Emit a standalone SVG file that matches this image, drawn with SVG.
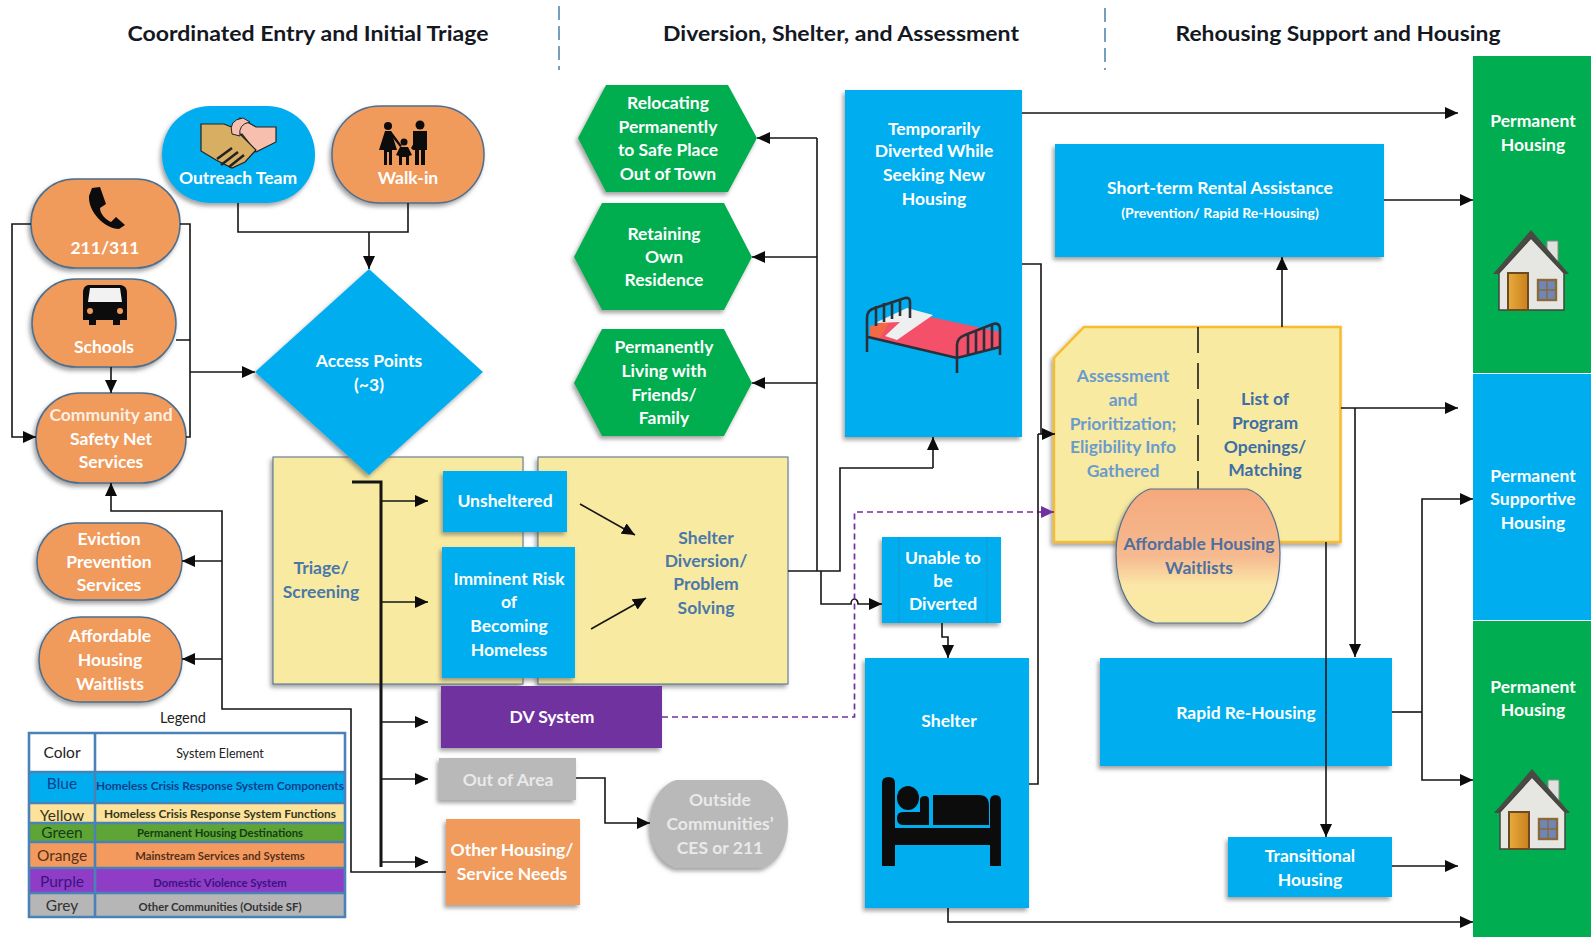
<svg xmlns="http://www.w3.org/2000/svg" width="1591" height="937" viewBox="0 0 1591 937">
<style>
text{font-family:Lato,"Liberation Sans",sans-serif;font-weight:700;text-anchor:middle}
.w{font-size:17.5px;fill:#fff}
.wg{font-size:17.5px;fill:#e9e9e9}
.h{font-size:20.5px;fill:#14181f}
.y{font-size:17.5px;fill:#4a78a8}
.a{font-size:17.5px;fill:#6a9bcd}
.b{font-size:17.5px;fill:#3d6ea6}
.s{filter:url(#sh)}
.blue{fill:#00aeef}.or{fill:#f09a5c}.gr{fill:#00ad50}.ye{fill:#f9eaa2}
.edge{stroke:#4c6f8f;stroke-width:1.5}
.c{fill:none;stroke:#151515;stroke-width:1.6}
.ca{marker-end:url(#ah)}
.lc{font-size:15.5px;font-weight:400;fill:#222}
.le{font-size:11.3px;font-weight:700}
.lg{fill:none;stroke:#4a82b8;stroke-width:2.6}
</style>
<defs>
<filter id="sh" x="-10%" y="-10%" width="125%" height="125%"><feDropShadow dx="-2" dy="3" stdDeviation="2" flood-color="#555" flood-opacity=".55"/></filter>
<marker id="ah" markerUnits="userSpaceOnUse" markerWidth="13" markerHeight="12" refX="13" refY="6" orient="auto"><path d="M0 0L13 6L0 12z" fill="#0c0c0c"/></marker>
<marker id="ap" markerUnits="userSpaceOnUse" markerWidth="13" markerHeight="12" refX="13" refY="6" orient="auto"><path d="M0 0L13 6L0 12z" fill="#7030a0"/></marker>
<linearGradient id="wl" x1="0" y1="0" x2="0" y2="1"><stop offset="0" stop-color="#f4a97c"/><stop offset=".5" stop-color="#f6b98f"/><stop offset=".72" stop-color="#fbe7a8"/><stop offset="1" stop-color="#f9eaa2"/></linearGradient>
<linearGradient id="dr" x1="0" y1="0" x2="1" y2="0"><stop offset="0" stop-color="#e8ab3c"/><stop offset="1" stop-color="#c9801e"/></linearGradient>
<g id="house">
<path d="M16 -10h11v24h-11z" fill="#dfe2de" stroke="#8a8a80"/>
<path d="M-38 23L0 -21L38 23L32 23L0 -13L-32 23z" fill="#4a4a44"/>
<path d="M-32 22L0 -13L33 22V59H-32z" fill="#e6e6e2" stroke="#44443c" stroke-width="1.500"/>
<rect x="-23" y="22" width="20" height="37" fill="url(#dr)" stroke="#6b4a22" stroke-width="2"/>
<rect x="7" y="29" width="18" height="20" fill="#6f86b8" stroke="#8a6a3a" stroke-width="2.400"/>
<path d="M16 29v20M7 39h18" stroke="#8a6a3a" stroke-width="1.400"/>
</g>
</defs>
<rect width="1591" height="937" fill="#fff"/>

<g id="headers">
<text class="h" x="308" y="41" textLength="361" lengthAdjust="spacingAndGlyphs">Coordinated Entry and Initial Triage</text>
<text class="h" x="841" y="41" textLength="356" lengthAdjust="spacingAndGlyphs">Diversion, Shelter, and Assessment</text>
<text class="h" x="1338" y="41" textLength="325" lengthAdjust="spacingAndGlyphs">Rehousing Support and Housing</text>
<path d="M559 6V70M1105 8V70" stroke="#4a7fa8" stroke-width="1.500" stroke-dasharray="14 6" fill="none"/>
</g>

<g id="column-green-1"><rect class="gr" x="1473" y="56" width="118" height="317"/><text class="w" x="1533" y="127">Permanent</text><text class="w" x="1533" y="151">Housing</text><use href="#house" x="1531" y="251"/></g>
<g id="column-blue"><rect class="blue" x="1473" y="374" width="118" height="246"/><text class="w" x="1533" y="482">Permanent</text><text class="w" x="1533" y="505">Supportive</text><text class="w" x="1533" y="529">Housing</text></g>
<g id="column-green-2"><rect class="gr" x="1473" y="621" width="118" height="316"/><text class="w" x="1533" y="693">Permanent</text><text class="w" x="1533" y="716">Housing</text><use href="#house" x="1532" y="790"/></g>

<g id="triage"><rect class="ye s edge" x="273" y="457" width="250" height="227" style="stroke-width:1"/><text class="y" x="321" y="574">Triage/</text><text class="y" x="321" y="598">Screening</text></g>
<g id="diversion"><rect class="ye s edge" x="538" y="457" width="250" height="227" style="stroke-width:1"/><text class="y" x="706" y="544">Shelter</text><text class="y" x="706" y="567">Diversion/</text><text class="y" x="706" y="590">Problem</text><text class="y" x="706" y="614">Solving</text></g>

<g id="outreach"><rect class="blue s" x="162" y="106" width="153" height="97" rx="48"/>
<path d="M276 127H256L240 118L230 128L232 140L242 134L256 152L276 142z" fill="#f7bfae" stroke="#222" stroke-width="1.200"/>
<path d="M201 124H224L234 128L256 150L245 162L232 168L216 160L201 151z" fill="#d8ae63" stroke="#222" stroke-width="1.200"/>
<path d="M232 134Q228 120 243 118L250 122Q238 124 240 136z" fill="#f7bfae" stroke="#222" stroke-width="1"/>
<path d="M217 159L232 148M221 165L238 152M229 167L244 155" stroke="#222" stroke-width="2.500" fill="none"/>
<text class="w" x="238" y="184">Outreach Team</text></g>

<g id="walkin"><rect class="or s edge" x="332" y="106" width="152" height="97" rx="48"/>
<g fill="#0c0c0c"><circle cx="388" cy="126" r="4"/><path d="M385 131H391L397 150H392V165H389V152H387V165H384V150H379z"/><circle cx="420" cy="125" r="4.500"/><path d="M413 131H427V150H425V165H421V150H419V165H415V150H413z"/><circle cx="404" cy="142" r="3.500"/><path d="M400 147H408L412 155L409 156V165H406V157H402V165H399V156L396 155z"/><path d="M391 131L402 146L400 147L389 133zM411 148L414 143L416 144L413 150z"/></g>
<text class="w" x="408" y="184">Walk-in</text></g>

<g id="phone311"><rect class="or s edge" x="31" y="179" width="149" height="89" rx="44"/>
<path d="M92 188L100 187L106 204L100 208C100 214 106 220 111 222L116 217L125 225L119 229C105 229 88 212 89 196z" fill="#0c0c0c"/>
<text class="w" x="105" y="254">211/311</text></g>

<g id="schools"><rect class="or s edge" x="32" y="279" width="144" height="88" rx="44"/>
<path d="M88 285H121Q127 286 127 293V320H120V325H113V320H96V325H89V320H83V293Q83 286 88 285z" fill="#0c0c0c"/><path d="M90 288H120L122 302H88z" fill="#f2f2f2"/><circle cx="90" cy="311" r="3" fill="#f09a5c"/><circle cx="120" cy="311" r="3" fill="#f09a5c"/>
<text class="w" x="104" y="353">Schools</text></g>

<g id="community"><rect class="or s edge" x="36" y="393" width="150" height="90" rx="44"/><text class="w" x="111" y="421" style="fill:#fdf0e2">Community and</text><text class="w" x="111" y="445">Safety Net</text><text class="w" x="111" y="468">Services</text></g>
<g id="eviction"><rect class="or s edge" x="37" y="523" width="145" height="77" rx="38"/><text class="w" x="109" y="545">Eviction</text><text class="w" x="109" y="568">Prevention</text><text class="w" x="109" y="591">Services</text></g>
<g id="waitlists-left"><rect class="or s edge" x="39" y="617" width="143" height="85" rx="42"/><text class="w" x="110" y="642">Affordable</text><text class="w" x="110" y="666">Housing</text><text class="w" x="110" y="690">Waitlists</text></g>

<g id="access"><path class="blue s" d="M369 269L483 372L369 475L255 372z"/><text class="w" x="369" y="367">Access Points</text><text class="w" x="369" y="391">(~3)</text></g>

<g id="unsheltered"><rect class="blue s" x="443" y="471" width="124" height="61"/><text class="w" x="505" y="507">Unsheltered</text></g>
<g id="imminent"><rect class="blue s" x="442" y="547" width="133" height="131"/><text class="w" x="509" y="585">Imminent Risk</text><text class="w" x="509" y="608">of</text><text class="w" x="509" y="632">Becoming</text><text class="w" x="509" y="656">Homeless</text></g>
<g id="dv"><rect class="s" x="441" y="686" width="221" height="62" fill="#70309f"/><text class="w" x="552" y="723">DV System</text></g>
<g id="outofarea"><rect class="s" x="439" y="758" width="137" height="42" fill="#b9b9b9"/><text class="wg" x="508" y="786">Out of Area</text></g>
<g id="otherhousing"><rect class="or s" x="446" y="819" width="134" height="86"/><text class="w" x="512" y="856">Other Housing/</text><text class="w" x="512" y="880">Service Needs</text></g>
<g id="outside"><path class="s" d="M676 780H762C780 786 788 805 788 824C788 844 780 862 762 868H676C658 862 650 844 650 824C650 805 658 786 676 780z" fill="#b9b9b9"/><text class="wg" x="720" y="806">Outside</text><text class="wg" x="720" y="830">Communities’</text><text class="wg" x="720" y="854">CES or 211</text></g>

<g id="relocating"><path class="gr s" d="M606 85H728L757 138L728 192H606L578 138z"/><text class="w" x="668" y="109">Relocating</text><text class="w" x="668" y="133">Permanently</text><text class="w" x="668" y="156">to Safe Place</text><text class="w" x="668" y="180">Out of Town</text></g>
<g id="retaining"><path class="gr s" d="M602 203H724L752 257L724 310H602L574 257z"/><text class="w" x="664" y="240">Retaining</text><text class="w" x="664" y="263">Own</text><text class="w" x="664" y="286">Residence</text></g>
<g id="living"><path class="gr s" d="M602 329H724L752 383L724 436H602L574 383z"/><text class="w" x="664" y="353">Permanently</text><text class="w" x="664" y="377">Living with</text><text class="w" x="664" y="401">Friends/</text><text class="w" x="664" y="424">Family</text></g>

<g id="temporary"><rect class="blue s" x="845" y="90" width="177" height="347"/><text class="w" x="934" y="135">Temporarily</text><text class="w" x="934" y="157">Diverted While</text><text class="w" x="934" y="181">Seeking New</text><text class="w" x="934" y="205">Housing</text>
<path d="M873 326L908 312L1000 332V347L957 358L870 337z" fill="#f4506a"/><path d="M870 326L890 321L880 338L870 336z" fill="#f26a45"/>
<path d="M875 323L907 308L933 315L897 340L885 336L900 322z" fill="#eef0f0"/>
<path d="M867 352V318Q867 310 875 308L905 298Q910 297 910 302V318M876 306V326M884 303V322M892 301V319M900 299V316M868 337L957 358L1000 347M957 373V345Q957 338 965 335L993 324Q1000 322 1000 330V355M968 334V354M976 331V352M984 328V350M992 325V348" fill="none" stroke="#2b2f3a" stroke-width="2.600"/></g>

<g id="unable"><rect class="blue s" x="882" y="537" width="119" height="86"/><path d="M899 537V623M987 537V623" stroke="#1398cf" stroke-width="1"/><text class="w" x="943" y="564">Unable to</text><text class="w" x="943" y="587">be</text><text class="w" x="943" y="610">Diverted</text></g>

<g id="shelter"><rect class="blue s" x="865" y="658" width="164" height="250"/><text class="w" x="949" y="727">Shelter</text>
<g fill="#0c0c0c"><path d="M882 783Q882 777 888.500 777Q895 777 895 783V866H882z"/><path d="M990 801Q990 795 995.500 795Q1001 795 1001 801V866H990z"/><rect x="882" y="828" width="119" height="17"/><ellipse cx="908" cy="798" rx="11" ry="12"/><path d="M897 818Q897 812 903 812H920V800Q920 796 925 796Q929 796 929 800V825H903Q897 825 897 818z"/><path d="M933 795H979Q989 795 989 806V825H933z"/></g></g>

<g id="shortterm"><rect class="blue s" x="1055" y="144" width="329" height="113"/><text class="w" x="1220" y="194">Short-term Rental Assistance</text><text x="1220" y="218" style="font-size:14px;fill:#fff">(Prevention/ Rapid Re-Housing)</text></g>

<g id="assessment"><path class="ye s" d="M1084 327H1340.500V542H1054V358z" style="stroke:#f6bd2e;stroke-width:2.500"/><path d="M1198 327V489" stroke="#111" stroke-width="1.500" stroke-dasharray="26 10" fill="none"/>
<text class="a" x="1123" y="382">Assessment</text><text class="a" x="1123" y="406">and</text><text class="a" x="1123" y="430">Prioritization;</text><text class="a" x="1123" y="453">Eligibility Info</text><text class="a" x="1123" y="477">Gathered</text>
<text class="b" x="1265" y="405">List of</text><text class="b" x="1265" y="429">Program</text><text class="b" x="1265" y="453">Openings/</text><text class="b" x="1265" y="476">Matching</text></g>

<g id="waitlists-right"><path class="s" d="M1150 489H1247C1268 495 1280 525 1280 553C1280 590 1268 615 1243 623H1155C1130 615 1116 590 1116 553C1116 525 1130 495 1150 489z" fill="url(#wl)" stroke="#55708f" stroke-width="1.200"/><text class="b" x="1199" y="550" style="fill:#4f6f9f">Affordable Housing</text><text class="b" x="1199" y="574" style="fill:#4f6f9f">Waitlists</text></g>

<g id="rapid"><rect class="blue s" x="1100" y="658" width="292" height="108"/><text class="w" x="1246" y="719">Rapid Re-Housing</text></g>
<g id="transitional"><rect class="blue s" x="1228" y="837" width="164" height="60"/><text class="w" x="1310" y="862">Transitional</text><text class="w" x="1310" y="886">Housing</text></g>

<g id="legend">
<text x="183" y="723" style="font-size:14.500px;font-weight:400;fill:#222">Legend</text>
<rect x="29" y="733" width="316" height="39" fill="#fff"/>
<rect x="29" y="772" width="316" height="31" fill="#00aeef"/>
<rect x="29" y="803" width="316" height="20" fill="#fde29b"/>
<rect x="29" y="823" width="316" height="19" fill="#5fa535"/>
<rect x="29" y="842" width="316" height="26" fill="#f49a5e"/>
<rect x="29" y="868" width="316" height="25" fill="#8f3dc6"/>
<rect x="29" y="893" width="316" height="24" fill="#b6b6b6"/>
<path class="lg" d="M29 733H345V917H29zM95 733V917M29 772H345M29 803H345M29 823H345M29 842H345M29 868H345M29 893H345"/>
<text class="lc" x="62" y="758">Color</text><text class="le" x="220" y="758" style="font-size:12.500px;font-weight:400;fill:#222">System Element</text>
<text class="lc" x="62" y="789" style="fill:#0d3f8c">Blue</text><text class="le" x="220" y="790" style="fill:#0b3f8a" textLength="248" lengthAdjust="spacingAndGlyphs">Homeless Crisis Response System Components</text>
<text class="lc" x="62" y="821" style="fill:#33361a">Yellow</text><text class="le" x="220" y="818" style="fill:#33361a" textLength="232" lengthAdjust="spacingAndGlyphs">Homeless Crisis Response System Functions</text>
<text class="lc" x="62" y="838" style="fill:#123d18">Green</text><text class="le" x="220" y="837" style="fill:#123d18">Permanent Housing Destinations</text>
<text class="lc" x="62" y="861" style="fill:#54301c">Orange</text><text class="le" x="220" y="860" style="fill:#54301c">Mainstream Services and Systems</text>
<text class="lc" x="62" y="887" style="fill:#3a1382">Purple</text><text class="le" x="220" y="887" style="fill:#3a1382">Domestic Violence System</text>
<text class="lc" x="62" y="911" style="fill:#333">Grey</text><text class="le" x="220" y="911" style="fill:#333">Other Communities (Outside SF)</text>
</g>

<g id="connectors">
<path class="c" d="M238 203V232H408V203"/>
<path class="c ca" d="M369 232V269"/>
<path class="c" d="M180 224H190V437H186M176 340H190"/>
<path class="c ca" d="M190 372H255"/>
<path class="c ca" d="M31 224H12V437H36"/>
<path class="c ca" d="M111 367V393"/>
<path class="c" d="M352 482H381V867" style="stroke-width:3"/>
<path class="c ca" d="M381 501H428"/>
<path class="c ca" d="M381 602H428"/>
<path class="c ca" d="M381 722H428"/>
<path class="c ca" d="M381 779H428"/>
<path class="c ca" d="M381 862H428"/>
<path class="c ca" d="M446 872H351V709H222V511H111V483"/>
<path class="c ca" d="M222 561H182"/>
<path class="c ca" d="M222 659H182"/>
<path class="c ca" d="M576 778H605V823H650"/>
<path class="c ca" d="M580 504L635 535"/>
<path class="c ca" d="M591 629L646 598"/>
<path class="c" d="M788 571H817M817 571H840V468H933"/>
<path class="c ca" d="M933 468V437"/>
<path class="c" d="M817 571V138"/>
<path class="c ca" d="M817 138H757"/>
<path class="c ca" d="M817 257H752"/>
<path class="c ca" d="M817 383H752"/>
<path class="c ca" d="M821 571V604H851A3.500 5 0 0 1 858 604H882"/>
<path class="c ca" d="M942 623V637H948V658"/>
<path d="M662 717H854.500V512H1040" fill="none" stroke="#7030a0" stroke-width="1.700" stroke-dasharray="6 4"/>
<path d="M1040 512H1054" fill="none" stroke="#7030a0" stroke-width="1.700" marker-end="url(#ap)"/>
<path class="c ca" d="M1022 113H1458"/>
<path class="c" d="M1022 264H1041V434"/>
<path class="c" d="M1029 784H1038V434"/>
<path class="c ca" d="M1038 434H1055"/>
<path class="c ca" d="M1384 200H1473"/>
<path class="c ca" d="M1282 327V257"/>
<path class="c ca" d="M1341 408H1458"/>
<path class="c ca" d="M1355 408V657"/>
<path class="c ca" d="M1326 542V837"/>
<path class="c" d="M1392 712H1422"/>
<path class="c ca" d="M1422 712V499H1473"/>
<path class="c ca" d="M1422 712V780H1473"/>
<path class="c ca" d="M1392 866H1458"/>
<path class="c ca" d="M948 908V922H1473"/>
</g>
</svg>
